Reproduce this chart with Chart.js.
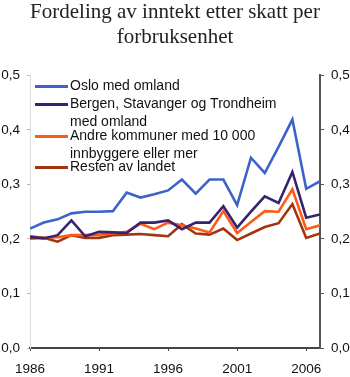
<!DOCTYPE html>
<html>
<head>
<meta charset="utf-8">
<script src="https://cdn.jsdelivr.net/npm/chart.js@4"></script>
<style>
  html, body { margin: 0; padding: 0; background: #fff; }
  #wrap { width: 350px; height: 377px; }
</style>
</head>
<body>
<div id="wrap"><canvas id="myChart" width="350" height="377"></canvas></div>
<script>
// år
const years = [1986, 1987, 1988, 1989, 1990, 1991, 1992, 1993, 1994, 1995, 1996,
  1997, 1998, 1999, 2000, 2001, 2002, 2003, 2004, 2005, 2006, 2007];

// seriene, lest av bildet
const oslo = [0.219, 0.230, 0.236, 0.247, 0.250, 0.250, 0.251, 0.285, 0.276, 0.282, 0.289,
  0.309, 0.283, 0.309, 0.309, 0.262, 0.349, 0.321, 0.369, 0.419, 0.292, 0.306];
const bergen = [0.204, 0.201, 0.207, 0.234, 0.205, 0.213, 0.212, 0.211, 0.230, 0.230, 0.234,
  0.218, 0.230, 0.230, 0.260, 0.221, 0.250, 0.278, 0.266, 0.323, 0.239, 0.245];
const andre = [0.205, 0.202, 0.203, 0.207, 0.207, 0.208, 0.210, 0.213, 0.228, 0.218, 0.230,
  0.225, 0.219, 0.212, 0.251, 0.211, 0.231, 0.251, 0.250, 0.291, 0.218, 0.225];
const resten = [0.201, 0.202, 0.195, 0.207, 0.202, 0.202, 0.207, 0.208, 0.209, 0.207, 0.205,
  0.227, 0.210, 0.208, 0.219, 0.198, 0.210, 0.222, 0.229, 0.264, 0.202, 0.210];

const seriesLabels = [
  ['Oslo med omland'],
  ['Bergen, Stavanger og Trondheim', 'med omland'],
  ['Andre kommuner med 10 000', 'innbyggere eller mer'],
  ['Resten av landet'],
];
const seriesColors = ['#3d63c9', '#372370', '#ff5a16', '#a2340f'];

const titleLines = ['Fordeling av inntekt etter skatt per', 'forbruksenhet'];

const sansFont = "'Liberation Sans', Arial, sans-serif";

// komma som desimaltegn
const fmt = (v) => v.toFixed(1).replace('.', ',');

const toPoints = (vals) => vals.map((v, i) => ({ x: years[i], y: v }));

const datasets = [oslo, bergen, andre, resten].map((vals, i) => ({
  label: seriesLabels[i].join(' '),
  data: toPoints(vals),
  borderColor: seriesColors[i],
  backgroundColor: seriesColors[i],
  borderWidth: 2.6,
  pointRadius: 0,
  tension: 0,
  yAxisID: 'y',
}));

// egen forklaring inne i plotteområdet
const legendInside = {
  id: 'legendInside',
  afterDatasetsDraw(chart) {
    const ctx = chart.ctx;
    const area = chart.chartArea;
    const rows = [11, 29, 61, 92]; // y for første linje per serie
    const lineGap = 18;
    ctx.save();
    ctx.font = '14px ' + sansFont;
    ctx.textBaseline = 'middle';
    ctx.fillStyle = '#111';
    seriesLabels.forEach((lines, i) => {
      const y = area.top + rows[i];
      ctx.strokeStyle = seriesColors[i];
      ctx.lineWidth = 3;
      ctx.beginPath();
      ctx.moveTo(area.left + 5, y);
      ctx.lineTo(area.left + 38, y);
      ctx.stroke();
      lines.forEach((t, j) => {
        ctx.fillText(t, area.left + 40, y + j * lineGap);
      });
    });
    ctx.restore();
  }
};

const ctx = document.getElementById('myChart').getContext('2d');
new Chart(ctx, {
  type: 'line',
  data: { datasets: datasets },
  options: {
    responsive: false,
    animation: false,
    layout: { padding: { top: 0, left: 0, right: 0, bottom: 0 } },
    plugins: {
      legend: { display: false },
      tooltip: { enabled: false },
      title: {
        display: true,
        text: titleLines,
        color: '#222',
        font: { family: "'Liberation Serif', 'Times New Roman', serif", size: 21, weight: 'normal', lineHeight: 1.2 },
        padding: { top: 0, bottom: 25 },
      },
    },
    scales: {
      x: {
        type: 'linear',
        min: 1986,
        max: 2007,
        afterBuildTicks: (axis) => {
          axis.ticks = [1986, 1991, 1996, 2001, 2006].map((v) => ({ value: v }));
        },
        ticks: {
          color: '#111',
          font: { family: sansFont, size: 13.5 },
          maxRotation: 0,
          padding: 10,
          callback: (v) => String(v),
        },
        grid: { display: true, drawOnChartArea: false, tickLength: 3, color: '#444' },
        border: { color: '#444', width: 2 },
        afterFit: (axis) => { axis.height = 29; },
      },
      y: {
        position: 'left',
        min: 0,
        max: 0.5,
        ticks: {
          stepSize: 0.1,
          color: '#111',
          font: { family: sansFont, size: 13.5 },
          padding: 7,
          callback: (v) => fmt(v),
        },
        grid: { drawOnChartArea: false, tickLength: 3, color: '#bbb' },
        border: { color: '#ddd', width: 1 },
        afterFit: (axis) => { axis.width = 30; },
      },
      y2: {
        position: 'right',
        min: 0,
        max: 0.5,
        ticks: {
          stepSize: 0.1,
          color: '#111',
          font: { family: sansFont, size: 13.5 },
          padding: 7,
          callback: (v) => fmt(v),
        },
        grid: { drawOnChartArea: false, tickLength: 4, color: '#555' },
        border: { color: '#555', width: 2 },
        afterFit: (axis) => { axis.width = 30; },
      },
    },
  },
  plugins: [legendInside],
});
</script>
</body>
</html>
